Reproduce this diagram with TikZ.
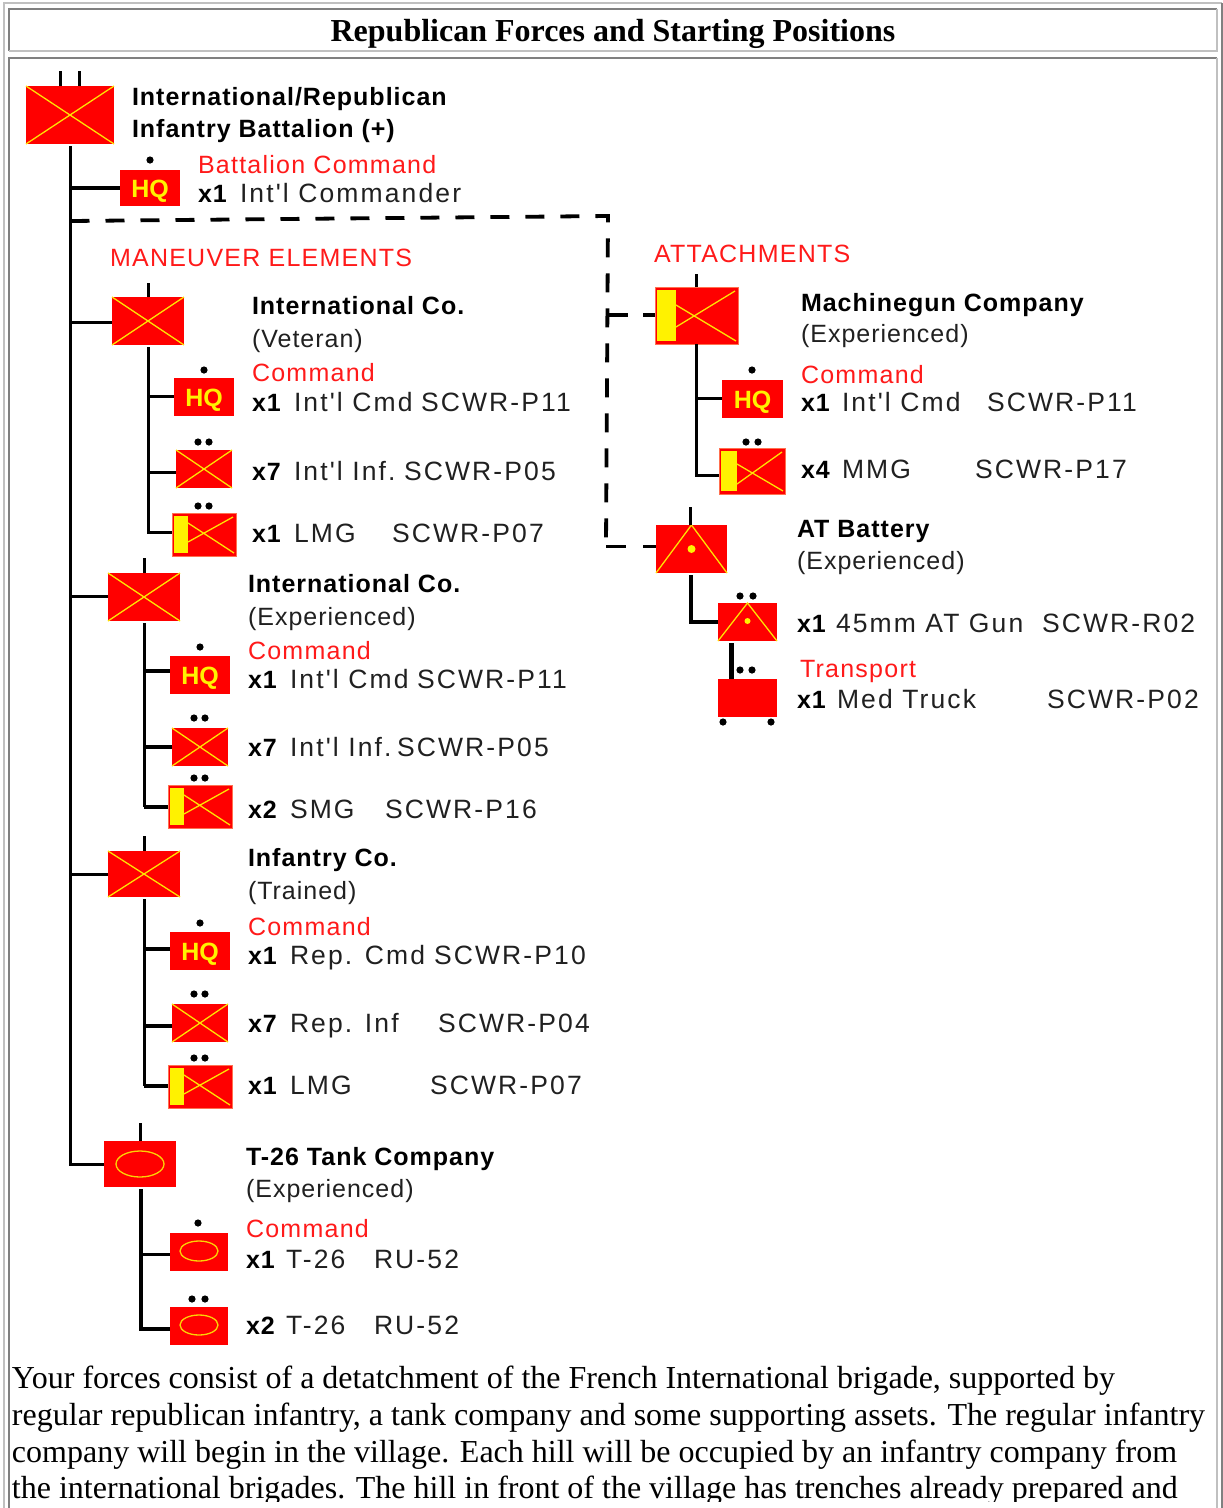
\documentclass[tikz,border=0pt]{standalone}
\usepackage{fontspec}
\setmainfont{Liberation Sans}
\newfontfamily\serifface{Liberation Serif}
\newfontfamily\diagface[LetterSpace=8]{Liberation Sans}
\newfontfamily\redface[LetterSpace=5]{Liberation Sans}
\newfontfamily\parface[LetterSpace=4]{Liberation Sans}
\newfontfamily\boldface[LetterSpace=4]{Liberation Sans}
\definecolor{bdark}{HTML}{808080}
\definecolor{blight}{HTML}{C0C0C0}
\definecolor{ink}{HTML}{202020}
\definecolor{redtxt}{HTML}{FF1A1A}
\definecolor{edgeor}{HTML}{FF7050}
\newcommand\ubox[6]{\node[unit,#6,minimum width={(#4-#2)*1pt},minimum height={(#5-#3)*1pt}] (#1) at ({(#2+#4)/2},{(#3+#5)/2}) {};}
\newcommand\xbox[5]{\ubox{#1}{#2}{#3}{#4}{#5}{}\draw[yl] (#1.north west) -- (#1.south east) (#1.north east) -- (#1.south west);}
\newcommand\mgbox[8]{\ubox{#1}{#2}{#3}{#4}{#5}{draw=edgeor,line width=1pt}\fill[yellow] ({#2+2},{#3+3}) rectangle (#6,{#5-3});\draw[yl] (#6,#7) -- ({#4-2},{#5-3}) (#6,#8) -- ({#4-3},{#3+4});}
\newcommand\hqbox[5]{\node[unit,minimum width={(#4-#2)*1pt},minimum height={(#5-#3)*1pt},text=yellow,font=\fontsize{25}{25}\selectfont\bfseries] (#1) at ({(#2+#4)/2},{(#3+#5)/2}) {\raisebox{-9pt}[0pt][0pt]{HQ}};}
\newcommand\tribox[7]{\ubox{#1}{#2}{#3}{#4}{#5}{}\draw[yl] (#1.south west) -- (#1.north) -- (#1.south east);\fill[yellow] (#1.center) ++(0,#7) circle (#6);}
\newcommand\twodots[3]{\fill[black] (#1,#3) circle (3.6) (#2,#3) circle (3.6);}
\newcommand\onedot[2]{\fill[black] (#1,#2) circle (3.6);}
\tikzset{
 x=1pt,y=-1pt,
 unit/.style={rectangle,fill=red,inner sep=0pt,outer sep=0pt,draw=none},
 yl/.style={draw=yellow!85!orange,line width=1.3pt},
 yo/.style={draw=yellow!70!orange,line width=1.3pt},
 ln/.style={draw=black,line width=3pt},
 lnb/.style={draw=black,line width=4.5pt},
 dsh/.style={draw=black,line width=3.8pt,dash pattern=on 19pt off 16pt},
 tx/.style={anchor=base west,inner sep=0pt,outer sep=0pt,yshift=1.5pt,text=ink,font=\diagface\fontsize{26.5}{26.5}\selectfont},
 pr/.style={anchor=base west,inner sep=0pt,outer sep=0pt,yshift=1.5pt,text=ink,font=\parface\fontsize{25}{25}\selectfont},
 rd/.style={anchor=base west,inner sep=0pt,outer sep=0pt,yshift=1.5pt,text=redtxt,font=\redface\fontsize{25}{25}\selectfont},
 bd/.style={anchor=base west,inner sep=0pt,outer sep=0pt,yshift=1.5pt,text=black,font=\boldface\fontsize{25}{25}\selectfont\bfseries},
 para/.style={anchor=base west,inner sep=0pt,outer sep=0pt,text=black,font=\serifface\fontsize{32}{32}\selectfont},
}
\begin{document}
\begin{tikzpicture}
\useasboundingbox (0,0) rectangle (1223,1508);
\fill[white] (0,0) rectangle (1223,1508);
% table frames
\draw[blight,line width=2pt] (4,1508) -- (4,3) -- (1222,3);
\draw[bdark,line width=2pt] (1222,3) -- (1222,1508);
\draw[bdark,line width=2.5pt] (9,51) -- (9,9) -- (1217,9);
\draw[blight,line width=2.5pt] (1217,9) -- (1217,51) -- (9,51);
\draw[bdark,line width=2.5pt] (9,1508) -- (9,58) -- (1217,58);
\draw[blight,line width=2.5pt] (1217,58) -- (1217,1508);
\node[anchor=base,inner sep=0pt,font=\serifface\fontsize{32}{32}\selectfont\bfseries,text=black] (title) at (613,41) {Republican Forces and Starting Positions};
% battalion
\xbox{bat}{26}{86}{114}{144}
\coordinate (batt1) at (60,71); \coordinate (batt2) at (79,71);
\draw[ln] (batt1) -- (batt1 |- bat.north) (batt2) -- (batt2 |- bat.north);
\coordinate (spinetop) at (70.5,146);
\coordinate (spineend) at (70.5,1164);
\hqbox{bhq}{120}{170}{180}{206}
\onedot{150}{160}
\coordinate (jb) at (70.5,188);
\draw[lnb] (jb) -- (jb -| bhq.west);
% dashed
\coordinate (dj) at (70.5,221); \coordinate (dc) at (608,216); \coordinate (de) at (606,546);
% company 1
\xbox{coa}{112}{297}{184}{345}
\coordinate (ta) at (148,283); \draw[ln] (ta) -- (ta |- coa.north);
\coordinate (ja) at (70.5,322); \draw[ln] (ja) -- (ja -| coa.west);
\hqbox{ahq}{174}{378}{234}{416} \onedot{204}{370}
\xbox{ainf}{176}{450}{232}{488} \twodots{198}{209}{442}
\mgbox{amg}{172}{513}{236}{556}{188}{523}{542} \twodots{198}{209}{506}
\coordinate (a0) at (148,347); \coordinate (a1) at (148,396); \coordinate (a2) at (148,472); \coordinate (a3) at (148,532);
\draw[ln] (a0) -- (a3) -- (a3 -| amg.west);
\draw[ln] (a1) -- (a1 -| ahq.west) (a2) -- (a2 -| ainf.west);
% company 2
\xbox{cob}{108}{573}{180}{621}
\coordinate (tb) at (144,558); \draw[ln] (tb) -- (tb |- cob.north);
\coordinate (jc) at (70.5,596); \draw[ln] (jc) -- (jc -| cob.west);
\hqbox{bqq}{170}{656}{230}{694} \onedot{200}{647}
\xbox{binf}{172}{728}{228}{766} \twodots{194}{205}{718}
\mgbox{bmg}{168}{785}{232}{828}{184}{795}{814} \twodots{194}{205}{778}
\coordinate (b0) at (144,623); \coordinate (b1) at (144,671); \coordinate (b2) at (144,747); \coordinate (b3) at (144,807);
\draw[ln] (b0) -- (b3);
\draw[lnb] (b1) -- (b1 -| bqq.west) (b2) -- (b2 -| binf.west) (b3) -- (b3 -| bmg.west);
% company 3
\xbox{coc}{108}{851}{180}{897}
\coordinate (tc) at (144,836); \draw[ln] (tc) -- (tc |- coc.north);
\coordinate (jd) at (70.5,874); \draw[ln] (jd) -- (jd -| coc.west);
\hqbox{cqq}{170}{932}{230}{970} \onedot{200}{923}
\xbox{cinf}{172}{1004}{228}{1042} \twodots{194}{205}{994}
\mgbox{cmg}{168}{1065}{232}{1108}{184}{1075}{1094} \twodots{194}{205}{1058}
\coordinate (c0) at (144,899); \coordinate (c1) at (144,949); \coordinate (c2) at (144,1026); \coordinate (c3) at (144,1086);
\draw[ln] (c0) -- (c3);
\draw[lnb] (c1) -- (c1 -| cqq.west) (c2) -- (c2 -| cinf.west) (c3) -- (c3 -| cmg.west);
% tank company
\ubox{tank}{104}{1141}{176}{1187}{}
\draw[yo] (tank.center) ellipse (24 and 13);
\coordinate (tt) at (140,1123); \draw[ln] (tt) -- (tt |- tank.north);
\ubox{tka}{170}{1233}{228}{1271}{} \draw[yo] (199,1251) ellipse (19 and 10); \onedot{198}{1223}
\ubox{tkb}{170}{1307}{228}{1345}{} \draw[yo] (199,1325) ellipse (19 and 10); \twodots{192}{205}{1299}
\coordinate (d0) at (141,1189); \coordinate (d1) at (141,1254); \coordinate (d2) at (141,1329);
\draw[lnb] (d0) -- (d2) -- (d2 -| tkb.west);
\draw[ln] (d1) -- (d1 -| tka.west);
% spine
\draw[ln,line join=miter] (spinetop) -- (spineend) -- (spineend -| tank.west);
\draw[dsh] (dj) -- (dc) -- (de);
% machinegun company
\mgbox{mgc}{655}{287}{738}{344}{676}{305}{327}
\coordinate (tm) at (696,274); \draw[ln] (tm) -- (tm |- mgc.north);
\coordinate (jm) at (608,315);
\draw[lnb,dash pattern=on 20pt off 15pt] (jm) -- (jm -| mgc.west);
\hqbox{mqq}{722}{380}{783}{418} \onedot{752}{370}
\mgbox{mmg}{719}{448}{785}{494}{737}{464}{484} \twodots{746}{758}{442}
\coordinate (m0) at (696,344); \coordinate (m1) at (696,398); \coordinate (m2) at (696,475);
\draw[ln] (m0) -- (m2) -- (m2 -| mmg.west) (m1) -- (m1 -| mqq.west);
% AT battery
\tribox{atb}{656}{525}{727}{573}{4}{0}
\coordinate (tat) at (690,507); \draw[ln] (tat) -- (tat |- atb.north);
\draw[ln,dash pattern=on 20pt off 17pt] (de) -- (de -| atb.west);
\tribox{atg}{718}{603}{777}{641}{3}{-1}
\twodots{740}{753}{596}
\coordinate (g0) at (691,575); \coordinate (g1) at (691,622);
\draw[lnb] (g0) -- (g1) -- (g1 -| atg.west);
\ubox{trk}{718}{679}{777}{717}{}
\twodots{740}{752}{670}
\twodots{723}{771}{722}
\coordinate (k0) at (731.5,643);
\draw[lnb] (k0) -- (k0 |- trk.north);
% labels, left
\node[bd] (l1) at (132,107) {International/Republican};
\node[bd] (l2) at (132,139) {Infantry Battalion (+)};
\node[rd] (l3) at (198,175) {Battalion Command};
\node[bd] (l4) at (198,204) {x1}; \node[tx] (l5) at (240,204) {Int'l Commander};
\node[rd] (l6) at (110,268) {MANEUVER ELEMENTS};
\node[bd] at (252,316) {International Co.};
\node[pr] at (252,349) {(Veteran)};
\node[rd] at (252,383) {Command};
\node[bd] at (252,413) {x1}; \node[tx] at (294,413) {Int'l Cmd}; \node[tx] at (421,413) {SCWR-P11};
\node[bd] at (252,482) {x7}; \node[tx] at (294,482) {Int'l Inf.}; \node[tx] at (404,482) {SCWR-P05};
\node[bd] at (252,544) {x1}; \node[tx] at (294,544) {LMG}; \node[tx] at (392,544) {SCWR-P07};
\node[bd] at (248,594) {International Co.};
\node[pr] at (248,627) {(Experienced)};
\node[rd] at (248,661) {Command};
\node[bd] at (248,690) {x1}; \node[tx] at (290,690) {Int'l Cmd}; \node[tx] at (417,690) {SCWR-P11};
\node[bd] at (248,758) {x7}; \node[tx] at (290,758) {Int'l Inf.}; \node[tx] at (397,758) {SCWR-P05};
\node[bd] at (248,820) {x2}; \node[tx] at (290,820) {SMG}; \node[tx] at (385,820) {SCWR-P16};
\node[bd] at (248,868) {Infantry Co.};
\node[pr] at (248,901) {(Trained)};
\node[rd] at (248,937) {Command};
\node[bd] at (248,966) {x1}; \node[tx] at (290,966) {Rep. Cmd}; \node[tx] at (434,966) {SCWR-P10};
\node[bd] at (248,1034) {x7}; \node[tx] at (290,1034) {Rep. Inf}; \node[tx] at (438,1034) {SCWR-P04};
\node[bd] at (248,1096) {x1}; \node[tx] at (290,1096) {LMG}; \node[tx] at (430,1096) {SCWR-P07};
\node[bd] at (246,1167) {T-26 Tank Company};
\node[pr] at (246,1199) {(Experienced)};
\node[rd] at (246,1239) {Command};
\node[bd] at (246,1270) {x1}; \node[tx] at (286,1270) {T-26}; \node[tx] at (374,1270) {RU-52};
\node[bd] at (246,1336) {x2}; \node[tx] at (286,1336) {T-26}; \node[tx] at (374,1336) {RU-52};
% labels, right
\node[rd] at (654,264) {ATTACHMENTS};
\node[bd] at (801,313) {Machinegun Company};
\node[pr] at (801,344) {(Experienced)};
\node[rd] at (801,385) {Command};
\node[bd] at (801,413) {x1}; \node[tx] at (842,413) {Int'l Cmd}; \node[tx] at (987,413) {SCWR-P11};
\node[bd] at (801,480) {x4}; \node[tx] at (842,480) {MMG}; \node[tx] at (975,480) {SCWR-P17};
\node[bd] at (797,539) {AT Battery};
\node[pr] at (797,571) {(Experienced)};
\node[bd] at (797,634) {x1}; \node[tx] at (836,634) {45mm AT Gun}; \node[tx] at (1042,634) {SCWR-R02};
\node[rd] at (800,679) {Transport};
\node[bd] at (797,710) {x1}; \node[tx] at (837,710) {Med Truck}; \node[tx] at (1047,710) {SCWR-P02};
% paragraph
\node[para] at (12,1388) {Your forces consist of a detatchment of the French International brigade, supported by};
\node[para] at (12,1425) {regular republican infantry, a tank company and some supporting assets. The regular infantry};
\node[para] at (12,1462) {company will begin in the village. Each hill will be occupied by an infantry company from};
\begin{scope}
\clip (11,1465) rectangle (1215,1501);
\node[para] at (12,1498) {the international brigades. The hill in front of the village has trenches already prepared and};
\end{scope}
\end{tikzpicture}
\end{document}
